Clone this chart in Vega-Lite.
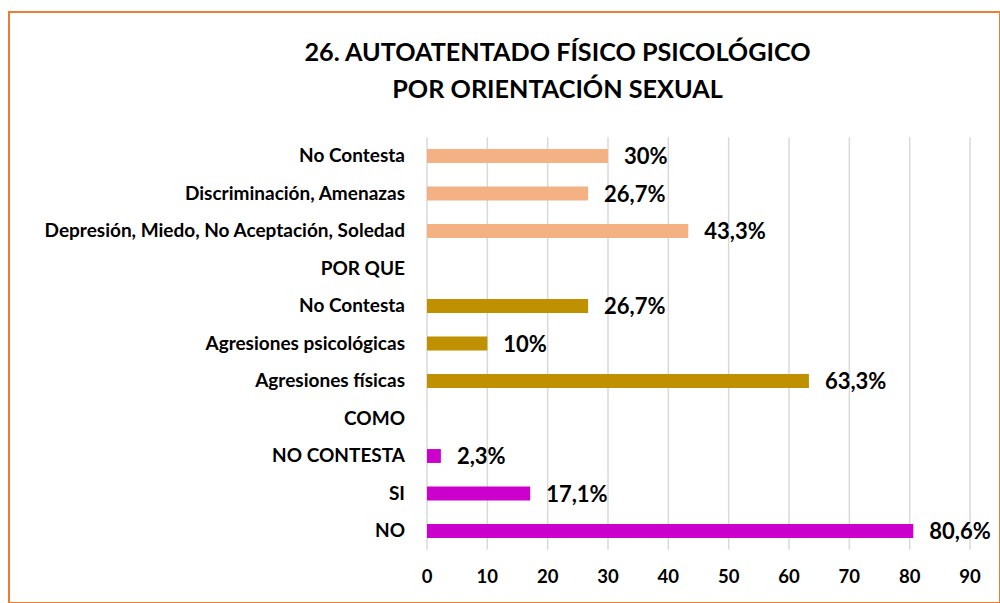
{
  "$schema": "https://vega.github.io/schema/vega-lite/v6.json",
  "width": 991,
  "height": 591,
  "autosize": {"type": "none"},
  "padding": {"left": 9, "top": 12, "right": 0, "bottom": 0},
  "background": "white",
  "title": {
    "text": ["26. AUTOATENTADO FÍSICO PSICOLÓGICO", "POR ORIENTACIÓN SEXUAL"],
    "anchor": "middle",
    "frame": "group",
    "dx": 53,
    "offset": -91,
    "font": "Lato",
    "fontSize": 25.2,
    "fontWeight": "bold",
    "color": "#000000",
    "lineHeight": 37
  },
  "config": {"view": {"stroke": "#ED7D31", "strokeWidth": 2}},
  "datasets": {
    "categorias": [
      {"key": "01|No Contesta", "label": "No Contesta"},
      {"key": "02|Discriminación, Amenazas", "label": "Discriminación, Amenazas"},
      {"key": "03|Depresión, Miedo, No Aceptación, Soledad", "label": "Depresión, Miedo, No Aceptación, Soledad"},
      {"key": "04|POR QUE", "label": "POR QUE"},
      {"key": "05|No Contesta", "label": "No Contesta"},
      {"key": "06|Agresiones psicológicas", "label": "Agresiones psicológicas\u00a0"},
      {"key": "07|Agresiones físicas", "label": "Agresiones físicas\u00a0"},
      {"key": "08|COMO", "label": "COMO"},
      {"key": "09|NO CONTESTA", "label": "NO CONTESTA"},
      {"key": "10|SI", "label": "SI"},
      {"key": "11|NO", "label": "NO"}
    ],
    "bars": [
      {"key": "01|No Contesta", "grupo": "porque", "pct": 30, "lbl": "30%"},
      {"key": "02|Discriminación, Amenazas", "grupo": "porque", "pct": 26.7, "lbl": "26,7%"},
      {"key": "03|Depresión, Miedo, No Aceptación, Soledad", "grupo": "porque", "pct": 43.3, "lbl": "43,3%"},
      {"key": "05|No Contesta", "grupo": "como", "pct": 26.7, "lbl": "26,7%"},
      {"key": "06|Agresiones psicológicas", "grupo": "como", "pct": 10, "lbl": "10%"},
      {"key": "07|Agresiones físicas", "grupo": "como", "pct": 63.3, "lbl": "63,3%"},
      {"key": "09|NO CONTESTA", "grupo": "autoatentado", "pct": 2.3, "lbl": "2,3%"},
      {"key": "10|SI", "grupo": "autoatentado", "pct": 17.1, "lbl": "17,1%"},
      {"key": "11|NO", "grupo": "autoatentado", "pct": 80.6, "lbl": "80,6%"}
    ],
    "ticks": [
      {"t": 0}, {"t": 10}, {"t": 20}, {"t": 30}, {"t": 40},
      {"t": 50}, {"t": 60}, {"t": 70}, {"t": 80}, {"t": 90}
    ]
  },
  "layer": [
    {
      "data": {"name": "ticks"},
      "mark": {"type": "rule", "color": "#D9D9D9", "strokeWidth": 1.5},
      "encoding": {
        "x": {
          "field": "t",
          "type": "quantitative",
          "scale": {"domain": [-69.28, 94.97], "nice": false, "zero": false},
          "axis": null
        },
        "y": {
          "datum": "01|No Contesta",
          "type": "nominal",
          "bandPosition": -0.851,
          "axis": null,
          "scale": {
            "domain": [
              "01|No Contesta",
              "02|Discriminación, Amenazas",
              "03|Depresión, Miedo, No Aceptación, Soledad",
              "04|POR QUE",
              "05|No Contesta",
              "06|Agresiones psicológicas",
              "07|Agresiones físicas",
              "08|COMO",
              "09|NO CONTESTA",
              "10|SI",
              "11|NO"
            ],
            "range": [125.25, 537.75],
            "paddingInner": 0.63,
            "paddingOuter": 0.315
          }
        },
        "y2": {"datum": "11|NO", "bandPosition": 1.851}
      }
    },
    {
      "data": {"name": "ticks"},
      "mark": {"type": "text", "align": "center", "baseline": "middle", "dy": 46, "font": "Lato", "fontSize": 18.5, "fontWeight": "bold", "color": "#000000"},
      "encoding": {
        "x": {"field": "t", "type": "quantitative", "axis": null},
        "y": {"datum": "11|NO", "type": "nominal", "axis": null},
        "text": {"field": "t", "type": "quantitative"}
      }
    },
    {
      "data": {"name": "categorias"},
      "mark": {"type": "text", "align": "right", "baseline": "middle", "dx": -22, "font": "Lato", "fontSize": 19, "fontWeight": "bold", "color": "#000000"},
      "encoding": {
        "x": {"datum": 0, "type": "quantitative", "axis": null},
        "y": {"field": "key", "type": "nominal", "sort": null, "axis": null},
        "text": {"field": "label"}
      }
    },
    {
      "data": {"name": "bars"},
      "mark": {"type": "bar"},
      "encoding": {
        "y": {"field": "key", "type": "nominal", "sort": null, "axis": null},
        "x": {"field": "pct", "type": "quantitative", "axis": null},
        "x2": {"datum": 0},
        "color": {
          "field": "grupo",
          "type": "nominal",
          "scale": {"domain": ["porque", "como", "autoatentado"], "range": ["#F4B183", "#BF9000", "#CC00CC"]},
          "legend": null
        }
      }
    },
    {
      "data": {"name": "bars"},
      "mark": {"type": "text", "align": "left", "baseline": "middle", "dx": 16, "dy": 1, "font": "Lato", "fontSize": 22, "fontWeight": "bold", "color": "#000000"},
      "encoding": {
        "y": {"field": "key", "type": "nominal", "sort": null, "axis": null},
        "x": {"field": "pct", "type": "quantitative", "axis": null},
        "text": {"field": "lbl"}
      }
    }
  ]
}
